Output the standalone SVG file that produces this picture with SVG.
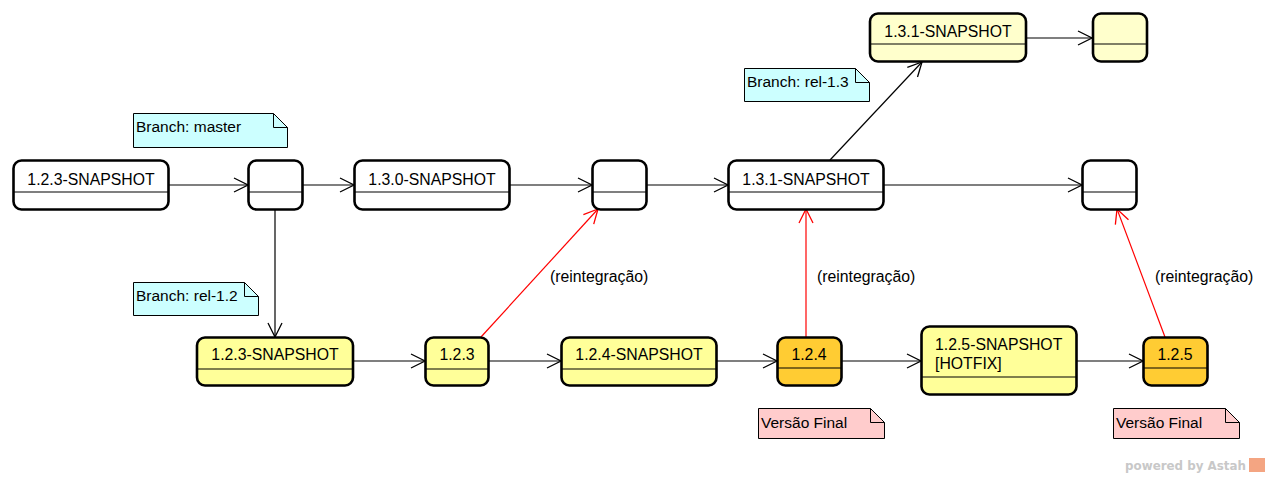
<svg xmlns="http://www.w3.org/2000/svg" width="1270" height="478" viewBox="0 0 1270 478">
<defs>
<style>
.n{stroke:#000;stroke-width:2.6}
.w{fill:#fff}.ly{fill:#ffffcc}.y{fill:#ffff99}.o{fill:#ffcc33}
.d{stroke:#000;stroke-width:1.2}
.t{font-family:"Liberation Sans",Arial,sans-serif;font-size:15.8px;fill:#000}
.nt{font-family:"Liberation Sans",Arial,sans-serif;font-size:15.5px;fill:#000}
.c{fill:none;stroke:#000;stroke-width:1.2}
.r{fill:none;stroke:#ff0000;stroke-width:1.2}
.nb{fill:#ccffff;stroke:#000;stroke-width:1}
.np{fill:#ffcccc;stroke:#000;stroke-width:1}
</style>
<marker id="a" viewBox="0 0 16 16" refX="15" refY="8" markerWidth="16" markerHeight="16" markerUnits="userSpaceOnUse" orient="auto"><path d="M1,1 L15,8 L1,15" fill="none" stroke="#000" stroke-width="1.3"/></marker>
<marker id="ar" viewBox="0 0 16 16" refX="15" refY="8" markerWidth="16" markerHeight="16" markerUnits="userSpaceOnUse" orient="auto"><path d="M1,1 L15,8 L1,15" fill="none" stroke="#ff0000" stroke-width="1.3"/></marker>
</defs>
<rect width="1270" height="478" fill="#fff"/>
<g id="connectors">
<line class="c" x1="168" y1="185" x2="248" y2="185" marker-end="url(#a)"/>
<line class="c" x1="302" y1="185" x2="354" y2="185" marker-end="url(#a)"/>
<line class="c" x1="509" y1="185" x2="592" y2="185" marker-end="url(#a)"/>
<line class="c" x1="646" y1="185" x2="728" y2="185" marker-end="url(#a)"/>
<line class="c" x1="883" y1="185" x2="1082" y2="185" marker-end="url(#a)"/>
<line class="c" x1="275" y1="209" x2="275" y2="337" marker-end="url(#a)"/>
<line class="c" x1="830" y1="160" x2="922" y2="62" marker-end="url(#a)"/>
<line class="c" x1="1026" y1="38" x2="1092" y2="38" marker-end="url(#a)"/>
<line class="c" x1="352" y1="361" x2="425" y2="361" marker-end="url(#a)"/>
<line class="c" x1="488" y1="361" x2="561" y2="361" marker-end="url(#a)"/>
<line class="c" x1="716" y1="361" x2="777" y2="361" marker-end="url(#a)"/>
<line class="c" x1="842" y1="361" x2="921" y2="361" marker-end="url(#a)"/>
<line class="c" x1="1077" y1="361" x2="1143" y2="361" marker-end="url(#a)"/>
<line class="r" x1="481" y1="337" x2="598" y2="209" marker-end="url(#ar)"/>
<line class="r" x1="806" y1="337" x2="806" y2="209" marker-end="url(#ar)"/>
<line class="r" x1="1165" y1="337" x2="1117" y2="209" marker-end="url(#ar)"/>
<text class="t" x="550" y="282">(reintegração)</text>
<text class="t" x="817" y="282">(reintegração)</text>
<text class="t" x="1155" y="282">(reintegração)</text>
</g>
<g id="m1"><rect class="n w" x="13.5" y="160.5" width="155" height="49" rx="8"/><line class="d" x1="14" y1="192" x2="168" y2="192"/><text class="t" x="91" y="185" text-anchor="middle">1.2.3-SNAPSHOT</text></g>
<g id="m2"><rect class="n w" x="248.5" y="160.5" width="54" height="49" rx="8"/><line class="d" x1="249" y1="192" x2="302" y2="192"/></g>
<g id="m3"><rect class="n w" x="354.5" y="160.5" width="155" height="49" rx="8"/><line class="d" x1="355" y1="192" x2="509" y2="192"/><text class="t" x="432" y="185" text-anchor="middle">1.3.0-SNAPSHOT</text></g>
<g id="m4"><rect class="n w" x="592.5" y="160.5" width="54" height="49" rx="8"/><line class="d" x1="593" y1="192" x2="646" y2="192"/></g>
<g id="m5"><rect class="n w" x="728.5" y="160.5" width="155" height="49" rx="8"/><line class="d" x1="729" y1="192" x2="883" y2="192"/><text class="t" x="806" y="185" text-anchor="middle">1.3.1-SNAPSHOT</text></g>
<g id="m6"><rect class="n w" x="1082.5" y="160.5" width="54" height="49" rx="8"/><line class="d" x1="1083" y1="192" x2="1136" y2="192"/></g>
<g id="t1"><rect class="n ly" x="870" y="13.5" width="156" height="48" rx="8"/><line class="d" x1="870" y1="44" x2="1026" y2="44"/><text class="t" x="948" y="37" text-anchor="middle">1.3.1-SNAPSHOT</text></g>
<g id="t2"><rect class="n ly" x="1093" y="13.5" width="54" height="48" rx="8"/><line class="d" x1="1093" y1="44" x2="1147" y2="44"/></g>
<g id="b1"><rect class="n y" x="197" y="337.5" width="156" height="48" rx="8"/><line class="d" x1="197" y1="369" x2="353" y2="369"/><text class="t" x="275" y="360" text-anchor="middle">1.2.3-SNAPSHOT</text></g>
<g id="b2"><rect class="n y" x="425.5" y="337.5" width="63" height="48" rx="8"/><line class="d" x1="426" y1="369" x2="488" y2="369"/><text class="t" x="457" y="360" text-anchor="middle">1.2.3</text></g>
<g id="b3"><rect class="n y" x="561.5" y="337.5" width="155" height="48" rx="8"/><line class="d" x1="562" y1="369" x2="716" y2="369"/><text class="t" x="639" y="360" text-anchor="middle">1.2.4-SNAPSHOT</text></g>
<g id="b4"><rect class="n o" x="777.5" y="337.5" width="64" height="48" rx="8"/><line class="d" x1="778" y1="368" x2="841" y2="368"/><text class="t" x="809" y="360" text-anchor="middle">1.2.4</text></g>
<g id="b5"><rect class="n y" x="921.5" y="326.5" width="155" height="68" rx="8"/><line class="d" x1="922" y1="377" x2="1076" y2="377"/><text class="t" x="935" y="350">1.2.5-SNAPSHOT</text><text class="t" x="935" y="369">[HOTFIX]</text></g>
<g id="b6"><rect class="n o" x="1143.5" y="337.5" width="64" height="48" rx="8"/><line class="d" x1="1144" y1="368" x2="1207" y2="368"/><text class="t" x="1175" y="360" text-anchor="middle">1.2.5</text></g>
<g id="note-master"><path class="nb" d="M133.5,113.5 H273.5 L287.5,127.5 V147.5 H133.5 Z"/><path d="M273.5,113.5 V127.5 H287.5" fill="none" stroke="#000"/><text class="nt" x="136" y="132">Branch: master</text></g>
<g id="note-rel12"><path class="nb" d="M133.5,282.5 H244.5 L258.5,296.5 V315.5 H133.5 Z"/><path d="M244.5,282.5 V296.5 H258.5" fill="none" stroke="#000"/><text class="nt" x="136" y="301">Branch: rel-1.2</text></g>
<g id="note-rel13"><path class="nb" d="M744.5,68.5 H855.5 L869.5,82.5 V101.5 H744.5 Z"/><path d="M855.5,68.5 V82.5 H869.5" fill="none" stroke="#000"/><text class="nt" x="747" y="87">Branch: rel-1.3</text></g>
<g id="note-final1"><path class="np" d="M758.5,408.5 H870.5 L884.5,422.5 V438.5 H758.5 Z"/><path d="M870.5,408.5 V422.5 H884.5" fill="none" stroke="#000"/><text class="nt" x="761" y="428">Versão Final</text></g>
<g id="note-final2"><path class="np" d="M1113.5,408.5 H1225.5 L1239.5,422.5 V438.5 H1113.5 Z"/><path d="M1225.5,408.5 V422.5 H1239.5" fill="none" stroke="#000"/><text class="nt" x="1116" y="428">Versão Final</text></g>
<g id="watermark"><text x="1125" y="470" font-family="'DejaVu Sans',sans-serif" font-weight="bold" font-size="12" textLength="121" lengthAdjust="spacingAndGlyphs" fill="#c8c8c8">powered by Astah</text><rect x="1249" y="458" width="16" height="14" fill="#f4a582"/></g>
</svg>
